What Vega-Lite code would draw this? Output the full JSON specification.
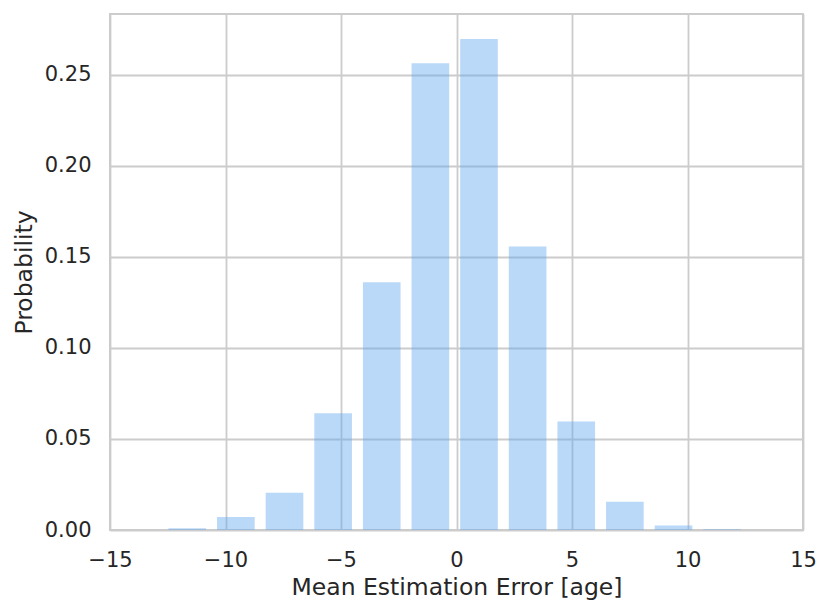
{
  "$schema": "https://vega.github.io/schema/vega-lite/v6.json",
  "width": 693,
  "height": 516,
  "autosize": {"type": "none"},
  "padding": {"left": 110, "top": 14, "right": 28, "bottom": 84},
  "background": "white",
  "config": {
    "view": {"stroke": "#cccccc", "strokeWidth": 2},
    "font": "DejaVu Sans",
    "bar": {"binSpacing": 11},
    "axis": {
      "domain": false,
      "ticks": false,
      "tickSize": 0,
      "grid": true,
      "gridColor": "#cccccc",
      "gridWidth": 1.8,
      "labelFont": "DejaVu Sans",
      "labelFontSize": 21,
      "labelColor": "#262626",
      "titleFont": "DejaVu Sans",
      "titleFontSize": 23.5,
      "titleFontWeight": "normal",
      "titleColor": "#262626"
    }
  },
  "data": {
    "values": [
      {"bin_start": -12.73, "bin_end": -10.625, "probability": 0.0010},
      {"bin_start": -10.625, "bin_end": -8.52, "probability": 0.0071},
      {"bin_start": -8.52, "bin_end": -6.415, "probability": 0.0204},
      {"bin_start": -6.415, "bin_end": -4.31, "probability": 0.0642},
      {"bin_start": -4.31, "bin_end": -2.205, "probability": 0.1361},
      {"bin_start": -2.205, "bin_end": -0.10, "probability": 0.2564},
      {"bin_start": -0.10, "bin_end": 2.005, "probability": 0.2697},
      {"bin_start": 2.005, "bin_end": 4.11, "probability": 0.1558},
      {"bin_start": 4.11, "bin_end": 6.215, "probability": 0.0596},
      {"bin_start": 6.215, "bin_end": 8.32, "probability": 0.0155},
      {"bin_start": 8.32, "bin_end": 10.425, "probability": 0.0025},
      {"bin_start": 10.425, "bin_end": 12.53, "probability": 0.0004}
    ]
  },
  "mark": {"type": "bar", "fill": "#5fa5ec", "fillOpacity": 0.43},
  "encoding": {
    "x": {
      "field": "bin_start",
      "type": "quantitative",
      "bin": "binned",
      "scale": {"domain": [-15, 15], "nice": false, "zero": false},
      "axis": {
        "title": "Mean Estimation Error [age]",
        "values": [-15, -10, -5, 0, 5, 10, 15],
        "format": "d",
        "labelPadding": 19,
        "titlePadding": 5,
        "labelFlush": false
      }
    },
    "x2": {"field": "bin_end"},
    "y": {
      "field": "probability",
      "type": "quantitative",
      "scale": {"domain": [0, 0.2835], "nice": false},
      "axis": {
        "title": "Probability",
        "values": [0, 0.05, 0.1, 0.15, 0.2, 0.25],
        "format": ".2f",
        "labelPadding": 19,
        "titlePadding": 8,
        "labelFlush": false
      }
    }
  }
}
